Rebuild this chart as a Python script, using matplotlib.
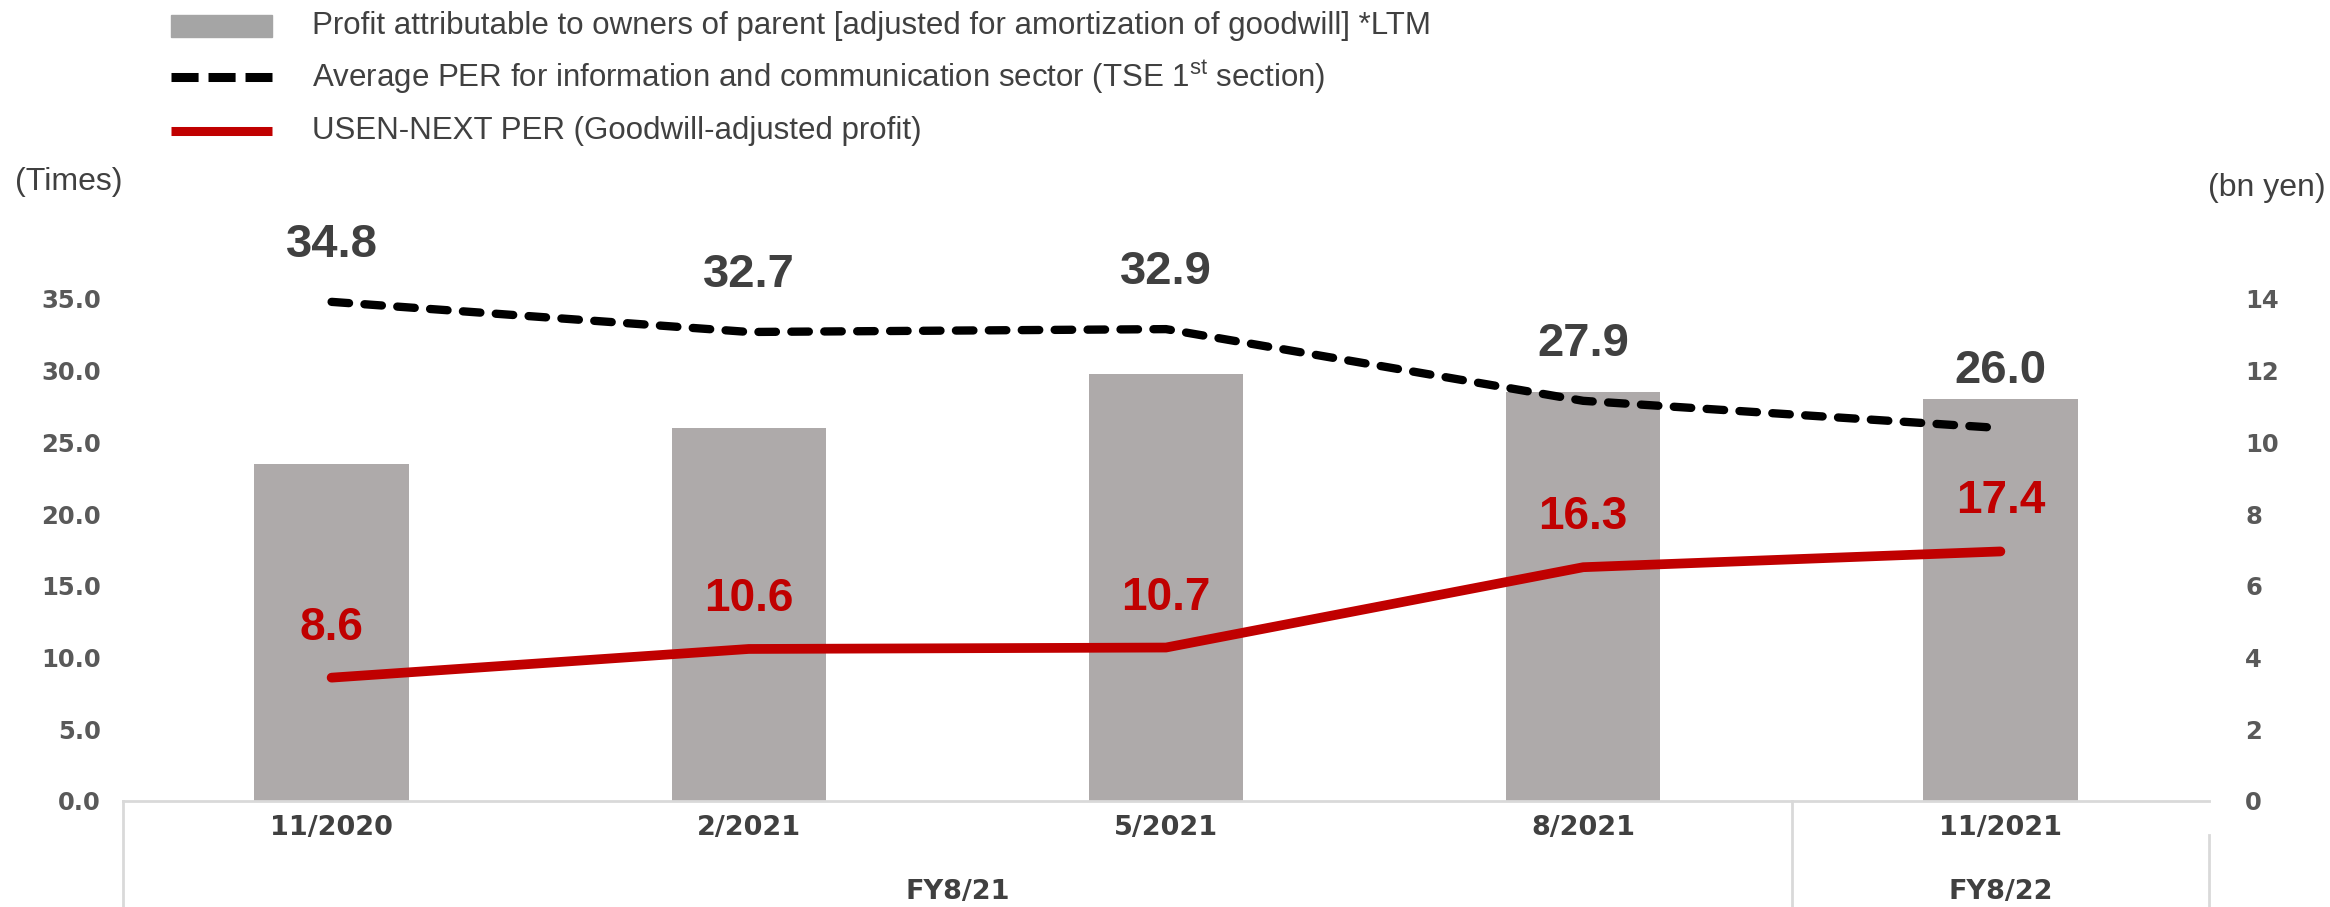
import matplotlib
matplotlib.use("Agg")
import matplotlib.pyplot as plt
from matplotlib.lines import Line2D
from matplotlib.patches import Rectangle
from matplotlib.transforms import blended_transform_factory
import numpy as np

# ---- data ----
categories = ["11/2020", "2/2021", "5/2021", "8/2021", "11/2021"]
groups = ["FY8/21", "FY8/22"]
profit_bn = [9.4, 10.4, 11.9, 11.4, 11.2]          # bars, right axis (bn yen)
sector_per = [34.8, 32.7, 32.9, 27.9, 26.0]        # dashed line, left axis (times)
usen_per = [8.6, 10.6, 10.7, 16.3, 17.4]           # red line, left axis (times)
left_ticks = [0, 5, 10, 15, 20, 25, 30, 35]
right_ticks = [0, 2, 4, 6, 8, 10, 12, 14]
legend_labels = [
    "Profit attributable to owners of parent [adjusted for amortization of goodwill] *LTM",
    r"Average PER for information and communication sector (TSE 1$^{\mathregular{st}}$ section)",
    "USEN-NEXT PER (Goodwill-adjusted profit)",
]

W, H = 2330, 907
fig = plt.figure(figsize=(W / 100, H / 100), dpi=100)
fig.patch.set_facecolor("white")

L, R, B, T = 123 / W, 2209 / W, (H - 801) / H, (H - 299) / H
ax = fig.add_axes([L, B, R - L, T - B])
ax2 = ax.twinx()

BAR_C = "#AEAAAA"
RED = "#C00000"
DARK = "#404040"
TICK_C = "#595959"
GRID_C = "#D9D9D9"

x = np.arange(len(categories))

ax2.bar(x, profit_bn, width=0.37, color=BAR_C, zorder=1)
ax2.set_ylim(0, 14)
ax.set_ylim(0, 35)
ax.set_xlim(-0.5, len(categories) - 0.5)

ax.set_zorder(ax2.get_zorder() + 1)
ax.patch.set_visible(False)

ax.plot(x, sector_per, color="black", lw=6, linestyle=(0, (2.1, 1.85)),
        dash_capstyle="round", solid_capstyle="round", clip_on=False, zorder=3)
ax.plot(x, usen_per, color=RED, lw=7, solid_capstyle="round", clip_on=False, zorder=3)

for xi, v in zip(x, sector_per):
    ax.annotate(f"{v:.1f}", (xi, v), xytext=(0, 41), textcoords="offset points",
                ha="center", va="center", fontsize=34, fontweight="bold",
                family="Liberation Sans", color=DARK, annotation_clip=False)
for xi, v in zip(x, usen_per):
    ax.annotate(f"{v:.1f}", (xi, v), xytext=(0, 36), textcoords="offset points",
                ha="center", va="center", fontsize=33, fontweight="bold",
                family="Liberation Sans", color=RED, annotation_clip=False)

for a in (ax, ax2):
    for s in a.spines.values():
        s.set_visible(False)
ax.set_xticks([])
ax.set_yticks(left_ticks)
ax.set_yticklabels([f"{t:.1f}" for t in left_ticks])
ax2.set_yticks(right_ticks)
ax2.set_yticklabels([str(t) for t in right_ticks])
ax.tick_params(axis="y", length=0, pad=16, labelsize=17.5, labelcolor=TICK_C)
ax2.tick_params(axis="y", length=0, pad=26, labelsize=17.5, labelcolor=TICK_C)
for lab in ax.get_yticklabels() + ax2.get_yticklabels():
    lab.set_fontweight("bold")
    lab.set_family("DejaVu Sans")

# category axis (multi-level)
tr = blended_transform_factory(ax.transData, fig.transFigure)
x0, x1 = -0.5, len(categories) - 0.5
split = 3.5
fig.add_artist(Line2D([L, R], [B, B], transform=fig.transFigure, color=GRID_C, lw=2))
for sx in (x0, split):
    fig.add_artist(Line2D([sx, sx], [B, 0.0], transform=tr, color=GRID_C, lw=2))
fig.add_artist(Line2D([x1, x1], [(H - 835) / H, 0.0], transform=tr, color=GRID_C, lw=2))

for xi, c in zip(x, categories):
    fig.text(xi, (H - 828) / H, c, transform=tr, ha="center", va="center",
             fontsize=19.5, fontweight="bold", family="DejaVu Sans", color=DARK)
group_centers = [(x0 + split) / 2, (split + x1) / 2]
for g, xc in zip(groups, group_centers):
    fig.text(xc, (H - 892) / H, g, transform=tr, ha="center", va="center",
             fontsize=19.5, fontweight="bold", family="DejaVu Sans", color=DARK)

# axis unit labels
fig.text(15 / W, (H - 182) / H, "(Times)", ha="left", va="center",
         fontsize=23, family="Liberation Sans", color=DARK)
fig.text(2326 / W, (H - 188) / H, "(bn yen)", ha="right", va="center",
         fontsize=23, family="Liberation Sans", color=DARK)

# legend (manual)
lx0, lx1, tx = 171 / W, 272 / W, 312 / W
rows = [(H - 26) / H, (H - 77) / H, (H - 131) / H]
fig.add_artist(Rectangle((lx0, (H - 37) / H), lx1 - lx0, 22 / H,
                         transform=fig.transFigure, color="#A5A5A5"))
fig.add_artist(Line2D([lx0, lx1], [rows[1], rows[1]], transform=fig.transFigure,
                      color="black", lw=6.5, linestyle=(0, (3.0, 1.1)), dash_capstyle="butt"))
fig.add_artist(Line2D([lx0, lx1], [rows[2], rows[2]], transform=fig.transFigure,
                      color=RED, lw=6.5, solid_capstyle="butt"))
for ry, lab in zip(rows, legend_labels):
    fig.text(tx, ry, lab, ha="left", va="center", fontsize=22.5,
             family="Liberation Sans", color=DARK)

fig.savefig("out.png", dpi=100, facecolor="white")
